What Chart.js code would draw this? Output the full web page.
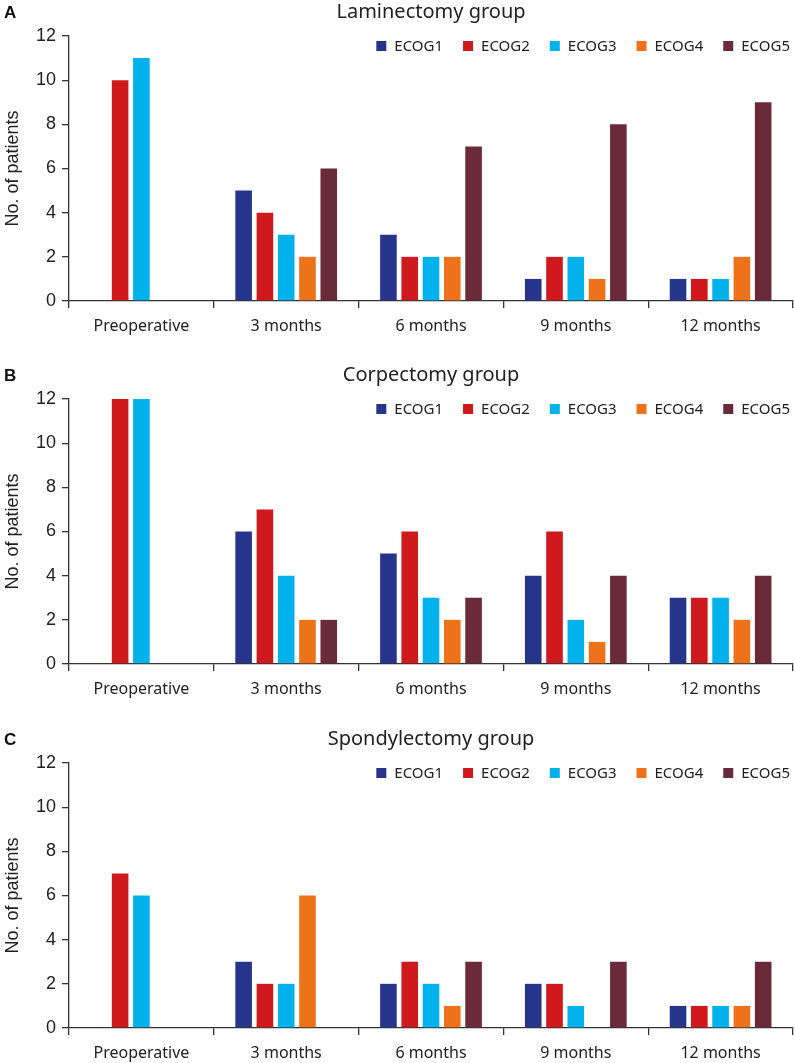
<!DOCTYPE html>
<html>
<head>
<meta charset="utf-8">
<script src="https://cdn.jsdelivr.net/npm/chart.js@4.4.0/dist/chart.umd.min.js"></script>
<style>
  html, body { margin: 0; padding: 0; background: #fff; overflow: hidden; width: 795px; height: 1063px; }
  .panel { position: absolute; left: 0; width: 795px; height: 363px; }
</style>
</head>
<body>
<div class="panel" style="top:0px"><canvas id="chartA" width="795" height="363"></canvas></div>
<div class="panel" style="top:363px"><canvas id="chartB" width="795" height="363"></canvas></div>
<div class="panel" style="top:727px"><canvas id="chartC" width="795" height="363"></canvas></div>
<script>
// Data
const categories = ['Preoperative', '3 months', '6 months', '9 months', '12 months'];
const seriesNames = ['ECOG1', 'ECOG2', 'ECOG3', 'ECOG4', 'ECOG5'];
const seriesColors = ['#27348b', '#d0191d', '#00b2eb', '#ee7219', '#6a2a39'];
const yTicks = [0, 2, 4, 6, 8, 10, 12];

// rows = ECOG1..ECOG5, columns = categories
const laminectomyValues = [
  [0, 5, 3, 1, 1],
  [10, 4, 2, 2, 1],
  [11, 3, 2, 2, 1],
  [0, 2, 2, 1, 2],
  [0, 6, 7, 8, 9]
];
const corpectomyValues = [
  [0, 6, 5, 4, 3],
  [12, 7, 6, 6, 3],
  [12, 4, 3, 2, 3],
  [0, 2, 2, 1, 2],
  [0, 2, 3, 4, 4]
];
const spondylectomyValues = [
  [0, 3, 2, 2, 1],
  [7, 2, 3, 2, 1],
  [6, 2, 2, 1, 1],
  [0, 6, 1, 0, 1],
  [0, 0, 3, 3, 3]
];

const textColor = '#222';
const axisColor = '#333';

// legend inside the plot area + panel letter
const insideLegend = {
  id: 'insideLegend',
  afterDraw(chart, args, opts) {
    const { ctx, chartArea } = chart;
    ctx.save();
    ctx.font = '15px "Noto Sans"';
    ctx.textBaseline = 'middle';
    const items = chart.data.datasets.map(ds => ({
      text: ds.label,
      color: ds.backgroundColor,
      w: ctx.measureText(ds.label).width
    }));
    const boxSize = 10, boxGap = 8, itemGap = 20;
    const total = items.reduce((s, it) => s + boxSize + boxGap + it.w, 0) + itemGap * (items.length - 1);
    let x = chartArea.right - 3 - total;
    const y = chartArea.top + 10;
    items.forEach(it => {
      ctx.fillStyle = it.color;
      ctx.fillRect(x, y - 5, boxSize, boxSize);
      x += boxSize + boxGap;
      ctx.fillStyle = textColor;
      ctx.fillText(it.text, x, y + 1);
      x += it.w + itemGap;
    });

    ctx.font = 'bold 17px "Liberation Sans"';
    ctx.fillStyle = '#111';
    ctx.fillText(opts.letter, 4, 13);
    ctx.restore();
  }
};

function makeChart(id, letter, title, values) {
  const ctx = document.getElementById(id).getContext('2d');
  return new Chart(ctx, {
    type: 'bar',
    data: {
      labels: categories,
      datasets: seriesNames.map((name, i) => ({
        label: name,
        data: values[i],
        backgroundColor: seriesColors[i],
        borderWidth: 0,
        categoryPercentage: 0.735,
        barPercentage: 0.78
      }))
    },
    options: {
      responsive: false,
      animation: false,
      devicePixelRatio: 1,
      layout: { padding: { left: 0, right: 2, top: 0, bottom: 25 } },
      plugins: {
        legend: { display: false },
        tooltip: { enabled: false },
        title: {
          display: true,
          text: title,
          fullSize: false,
          color: textColor,
          font: { family: 'Noto Sans', size: 20, weight: 'normal' },
          padding: { top: 0, bottom: 12 }
        },
        insideLegend: { letter: letter }
      },
      scales: {
        x: {
          grid: { display: true, drawOnChartArea: false, drawTicks: true, tickLength: 7, color: axisColor, lineWidth: 1.3 },
          border: { display: true, color: axisColor, width: 1.3 },
          ticks: { color: textColor, padding: 9, font: { family: 'Noto Sans', size: 16 } },
          afterFit: scale => { scale.height = 37; }
        },
        y: {
          min: yTicks[0],
          max: yTicks[yTicks.length - 1],
          afterBuildTicks: scale => { scale.ticks = yTicks.map(v => ({ value: v })); },
          grid: { display: true, drawOnChartArea: false, drawTicks: true, tickLength: 7, color: axisColor, lineWidth: 1.3 },
          border: { display: true, color: axisColor, width: 1.3 },
          ticks: { color: textColor, padding: 6, font: { family: 'Liberation Sans', size: 18 } },
          title: {
            display: true,
            text: 'No. of patients',
            color: textColor,
            font: { family: 'Liberation Sans', size: 18 },
            padding: { top: 2, bottom: 0 }
          },
          afterFit: scale => { scale.width = 69; }
        }
      }
    },
    plugins: [insideLegend]
  });
}

makeChart('chartA', 'A', 'Laminectomy group', laminectomyValues);
makeChart('chartB', 'B', 'Corpectomy group', corpectomyValues);
makeChart('chartC', 'C', 'Spondylectomy group', spondylectomyValues);
</script>
</body>
</html>
